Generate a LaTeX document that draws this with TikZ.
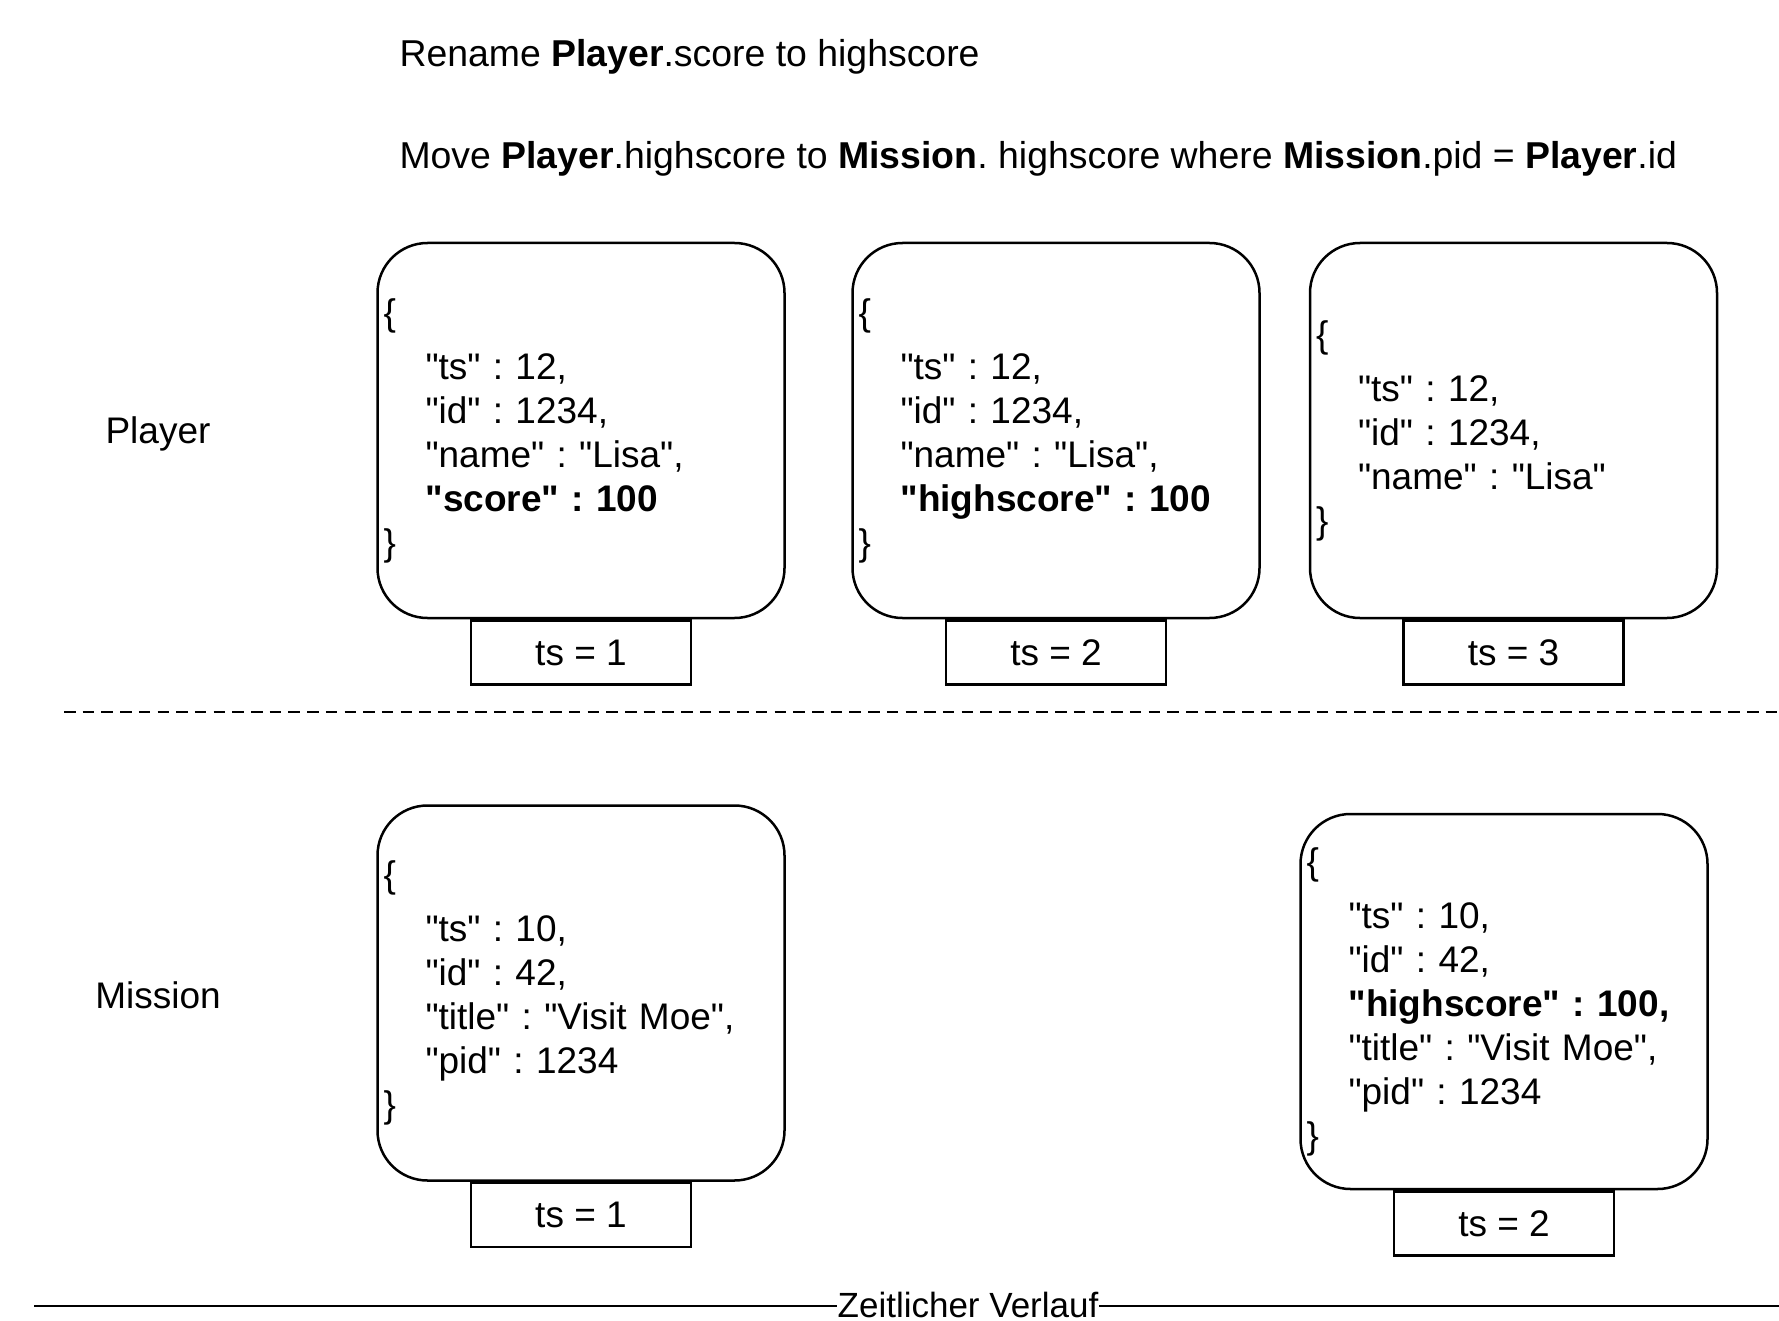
\documentclass[tikz,border=0pt]{standalone}
\usepackage{fontspec}
\setmainfont{Liberation Sans}[Ligatures=TeXOff]
\usetikzlibrary{positioning}

\tikzset{
	doc/.style={draw,line width=2.5pt,rounded corners=50pt,minimum width=407pt,minimum height=375pt,
		text width=395pt,inner xsep=6pt,align=left,font=\fontsize{37}{44}\selectfont,
		execute at begin node={\vspace*{10pt}}},
	tsbox/.style={draw,line width=2.5pt,minimum width=220pt,minimum height=64pt,inner sep=0pt,
		font=\fontsize{37}{44}\selectfont},
	lbl/.style={font=\fontsize{37}{44}\selectfont},
}
\newcommand{\ind}{\hspace*{42pt}}
\frenchspacing

\begin{document}
\begin{tikzpicture}[x=1pt,y=-1pt]
		\useasboundingbox (0,0) rectangle (1779,1321);
		% kopfzeilen
		\node[lbl,font=\fontsize{37.4}{44}\selectfont,anchor=west] (rename) at (396,57) {Rename \textbf{Player}.score to highscore};
		\node[lbl,font=\fontsize{37.4}{44}\selectfont,anchor=west] (move) at (396,159) {Move \textbf{Player}.highscore to \textbf{Mission}. highscore where \textbf{Mission}.pid = \textbf{Player}.id};
		% player
		\node[lbl] (player) at (158,434) {Player};
		\node[doc] (p1) at (581,430.5) {\{\\ \ind"ts" : 12,\\ \ind"id" : 1234,\\ \ind"name" : "Lisa",\\ \ind\textbf{"score" : 100}\\ \}};
		\node[doc] (p2) at (1056,430.5) {\{\\ \ind"ts" : 12,\\ \ind"id" : 1234,\\ \ind"name" : "Lisa",\\ \ind\textbf{"highscore" : 100}\\ \}};
		\node[doc] (p3) at (1513.5,430.5) {\{\\ \ind"ts" : 12,\\ \ind"id" : 1234,\\ \ind"name" : "Lisa"\\ \}};
		\node[tsbox,below=0pt of p1] (tp1) {ts = 1};
		\node[tsbox,below=0pt of p2] (tp2) {ts = 2};
		\node[tsbox,below=0pt of p3] (tp3) {ts = 3};
		% trennlinie
		\coordinate (sepL) at (64,712);
		\coordinate (sepR) at (1779,712);
		\draw[line width=2.5pt,dash pattern=on 11.5pt off 7.2pt] (sepL) -- (sepR);
		% mission
		\node[lbl] (mission) at (158,995) {Mission};
		\node[doc] (m1) at (581,993) {\{\\ \ind"ts" : 10,\\ \ind"id" : 42,\\ \ind"title" : "Visit Moe",\\ \ind"pid" : 1234\\ \}};
		\node[doc] (m2) at (1504,1001.5) {\{\\ \ind"ts" : 10,\\ \ind"id" : 42,\\ \ind\textbf{"highscore" : 100,}\\ \ind"title" : "Visit Moe",\\ \ind"pid" : 1234\\ \}};
		\node[tsbox,below=0pt of m1] (tm1) {ts = 1};
		\node[tsbox,below=0pt of m2] (tm2) {ts = 2};
		% zeitachse
		\coordinate (timeL) at (34,1306);
		\coordinate (timeR) at (1779,1306);
		\draw[line width=2.5pt] (timeL) -- (timeR);
		\node[font=\fontsize{35}{40}\selectfont,fill=white,inner xsep=1pt,inner ysep=0pt] (time) at (968,1305) {Zeitlicher Verlauf};
	\end{tikzpicture}
\end{document}
